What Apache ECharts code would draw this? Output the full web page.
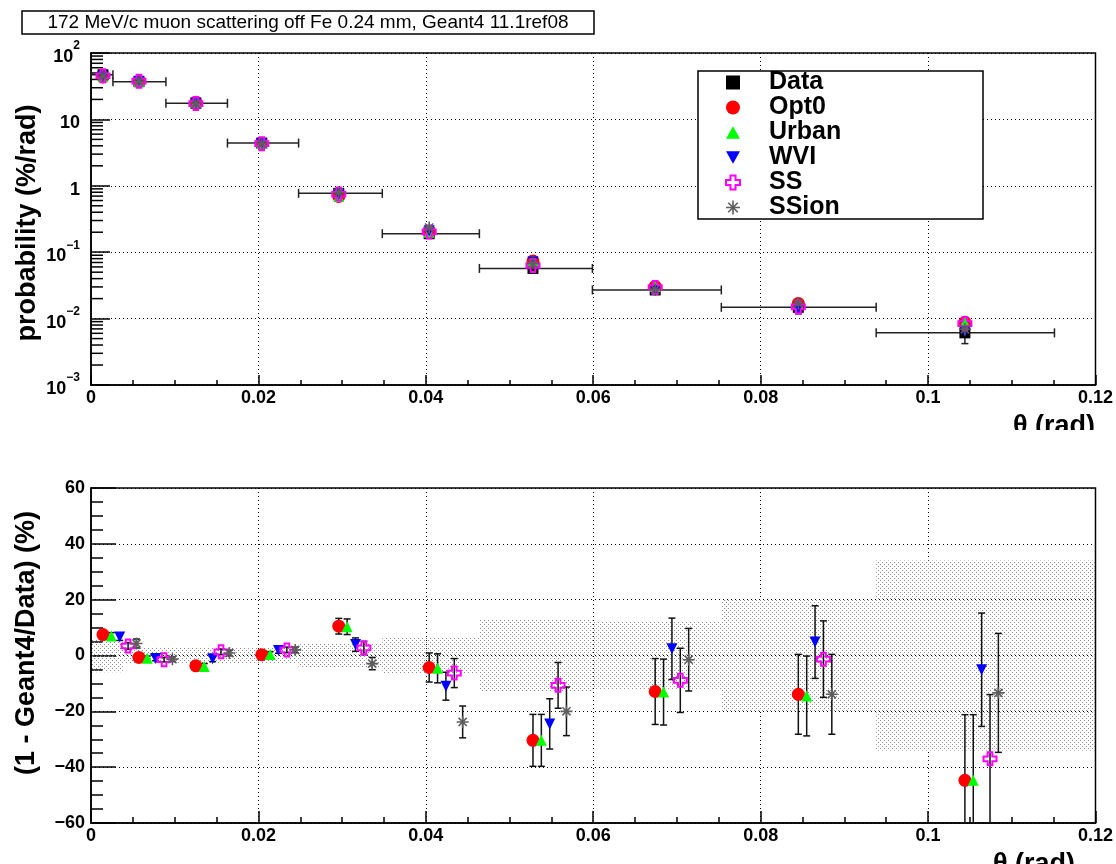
<!DOCTYPE html>
<html><head><meta charset="utf-8">
<script src="https://cdn.jsdelivr.net/npm/echarts@6/dist/echarts.min.js"></script>
<style>html,body{margin:0;padding:0;background:#fff}#c{width:1116px;height:864px}</style>
</head><body><div id="c"></div>
<script>
// ---------------- data ----------------
const seriesNames = ['Data', 'Opt0', 'Urban', 'WVI', 'SS', 'SSion'];
const binCenters = [0.00143, 0.00573, 0.01253, 0.0204, 0.0296, 0.0404, 0.0528, 0.0674, 0.0845, 0.1044];
const binLow  = [0, 0.00262, 0.00895, 0.0163, 0.0248, 0.0348, 0.0464, 0.0599, 0.0753, 0.0938];
const binHigh = [0.00262, 0.00895, 0.0163, 0.0248, 0.0348, 0.0464, 0.0599, 0.0753, 0.0938, 0.1151];

const dataProb    = [47, 37, 17.5, 4.4, 0.77, 0.19, 0.057, 0.027, 0.0148, 0.0061];
const dataProbErr = [2.8, 1.1, 0.5, 0.13, 0.03, 0.012, 0.0075, 0.0032, 0.003, 0.0019];
const opt0Prob  = [43.5, 37.3, 18.1, 4.39, 0.69, 0.198, 0.074, 0.0305, 0.0169, 0.0088];
const urbanProb = [43.7, 37.4, 18.2, 4.38, 0.69, 0.199, 0.074, 0.0305, 0.0169, 0.0088];
const wviProb   = [43.9, 37.4, 17.7, 4.32, 0.74, 0.211, 0.071, 0.0264, 0.0141, 0.0064];
const ssProb    = [45.4, 37.6, 17.3, 4.31, 0.75, 0.202, 0.063, 0.0294, 0.0150, 0.0084];
const ssionProb = [45.0, 37.5, 17.3, 4.31, 0.79, 0.235, 0.068, 0.0274, 0.0169, 0.0069];

const opt0Ratio     = [7.5, -0.7, -3.7, 0.3, 10.5, -4.3, -30.4, -12.9, -13.9, -44.7];
const opt0RatioErr  = [1.2, 0.8, 1.0, 1.0, 2.8, 5.2, 9.3, 11.8, 14.3, 23.5];
const urbanRatio    = [7.0, -1.0, -3.9, 0.4, 10.3, -4.6, -30.4, -13.1, -14.5, -44.7];
const urbanRatioErr = [1.2, 0.8, 1.0, 1.0, 2.8, 5.2, 9.3, 11.8, 14.3, 23.5];
const wviRatio      = [6.6, -1.1, -1.2, 1.8, 3.9, -11.0, -24.5, 2.4, 4.8, -5.1];
const wviRatioErr   = [1.2, 0.8, 1.0, 1.0, 2.4, 5.0, 9.0, 11.0, 13.0, 20.3];
const ssRatio       = [3.4, -1.5, 1.3, 2.0, 2.7, -6.3, -10.7, -8.9, -1.3, -37.0];
const ssRatioErr    = [1.2, 0.8, 1.0, 1.0, 2.4, 5.2, 8.2, 11.5, 13.7, 23.0];
const ssionRatio    = [4.3, -1.3, 0.9, 2.0, -2.9, -23.8, -20.0, -1.5, -13.9, -13.4];
const ssionRatioErr = [1.6, 0.8, 1.0, 1.0, 2.2, 5.7, 8.7, 11.2, 14.3, 21.3];

// data relative uncertainty band (%), per histogram bin
const bandLow   = [0, 0.0038, 0.0248, 0.0348, 0.0464, 0.0599, 0.0753, 0.0938];
const bandHigh  = [0.0038, 0.0248, 0.0348, 0.0464, 0.0599, 0.0753, 0.0938, 0.12];
const bandHalf  = [6.0, 3.0, 4.2, 6.3, 13.0, 12.0, 20.0, 34.0];

const xTickLabels = ['0', '0.02', '0.04', '0.06', '0.08', '0.1', '0.12'];
const logTickLabels = ['{b|10}{s|\u22123}', '{b|10}{s|\u22122}', '{b|10}{s|\u22121}', '{b|1}', '{b|10}', '{b|10}{s|2}'];
const ratioTickLabels = ['\u221260', '\u221240', '\u221220', '0', '20', '40', '60'];

// ---------------- style ----------------
const FONT = '"Liberation Sans", Arial, Helvetica, sans-serif';
const sym = {
  Data: 'rect',
  Opt0: 'circle',
  Urban: 'path://M5,0L10,9L0,9Z',
  WVI: 'path://M0,0L10,0L5,9Z',
  SS: 'path://M3.2,0H6.8V3.2H10V6.8H6.8V10H3.2V6.8H0V3.2H3.2Z',
  SSion: 'path://M5,0L5,10M0,5L10,5M1.6,1.6L8.4,8.4M8.4,1.6L1.6,8.4'
};
const symSize = {Data: 11, Opt0: 13, Urban: 11, WVI: 11, SS: 13, SSion: 12};
const styles = {
  Data: {color: '#000'},
  Opt0: {color: '#ff0000'},
  Urban: {color: '#00ff00'},
  WVI: {color: '#0000ff'},
  SS: {color: 'rgba(0,0,0,0)', borderColor: '#ff00ff', borderWidth: 2},
  SSion: {color: 'rgba(0,0,0,0)', borderColor: '#5e5e5e', borderWidth: 1.6}
};
const probs = {Data: dataProb, Opt0: opt0Prob, Urban: urbanProb, WVI: wviProb, SS: ssProb, SSion: ssionProb};
const ratios = {Opt0: [opt0Ratio, opt0RatioErr], Urban: [urbanRatio, urbanRatioErr], WVI: [wviRatio, wviRatioErr], SS: [ssRatio, ssRatioErr], SSion: [ssionRatio, ssionRatioErr]};
const models = ['Opt0', 'Urban', 'WVI', 'SS', 'SSion'];
const DODGE = 0.001;

// dotted fill pattern
const pc = document.createElement('canvas');
pc.width = 4; pc.height = 4;
const g = pc.getContext('2d');
g.fillStyle = '#8c8c8c';
g.fillRect(0, 0, 1, 1); g.fillRect(2, 2, 1, 1);

function xAx(gi, majLen, minLen) {
  return {
    type: 'value', gridIndex: gi, min: 0, max: 0.12, interval: 0.02,
    axisLine: {show: true, onZero: false, lineStyle: {color: '#000', width: 1.5}},
    axisTick: {show: true, inside: true, length: majLen, lineStyle: {color: '#000', width: 1.5}},
    minorTick: {show: true, splitNumber: 4, length: minLen, lineStyle: {color: '#000', width: 1.5}},
    splitLine: {show: true, lineStyle: {color: '#000', width: 1, type: [1, 3]}},
    axisLabel: {color: '#000', fontSize: 18, fontWeight: 'bold', fontFamily: FONT, margin: 4,
      formatter: v => xTickLabels[Math.round(v / 0.02)]}
  };
}

const minorLogValues = [];
[-3, -2, -1, 0, 1].forEach(k => { [2,3,4,5,6,7,8,9].forEach(m => minorLogValues.push([0, m * Math.pow(10, k)])); });

const series = [];
// bands
series.push({
  type: 'custom', name: 'band', xAxisIndex: 1, yAxisIndex: 1, clip: true, silent: true,
  data: bandLow.map((lo, i) => [lo, bandHigh[i], bandHalf[i]]),
  encode: {x: [0, 1], y: 2},
  renderItem: (p, api) => {
    const a = api.coord([api.value(0), api.value(2)]);
    const b = api.coord([api.value(1), -api.value(2)]);
    return {type: 'rect', shape: {x: a[0], y: a[1], width: b[0] - a[0], height: b[1] - a[1]},
      style: {fill: {image: pc, repeat: 'repeat'}}};
  }
});
// minor log ticks
series.push({
  type: 'custom', name: 'logminor', xAxisIndex: 0, yAxisIndex: 0, silent: true,
  data: minorLogValues, encode: {x: 0, y: 1},
  renderItem: (p, api) => {
    const c = api.coord([api.value(0), api.value(1)]);
    return {type: 'line', shape: {x1: c[0], y1: c[1], x2: c[0] + 12, y2: c[1]}, style: {stroke: '#000', lineWidth: 1.5}};
  }
});
// data error bars (top)
series.push({
  type: 'custom', name: 'dataerr', xAxisIndex: 0, yAxisIndex: 0, silent: true,
  data: binCenters.map((x, i) => [x, dataProb[i], binLow[i], binHigh[i], dataProbErr[i]]),
  encode: {x: 0, y: 1},
  renderItem: (p, api) => {
    const x = api.value(0), y = api.value(1), e = api.value(4);
    const L = api.coord([api.value(2), y]), R = api.coord([api.value(3), y]);
    const T = api.coord([x, y + e]), B = api.coord([x, y - e]);
    const st = {stroke: '#222', lineWidth: 1.5};
    const ln = (x1, y1, x2, y2) => ({type: 'line', shape: {x1, y1, x2, y2}, style: st});
    return {type: 'group', children: [
      ln(L[0], L[1], R[0], R[1]), ln(L[0], L[1] - 4.5, L[0], L[1] + 4.5), ln(R[0], R[1] - 4.5, R[0], R[1] + 4.5),
      ln(T[0], T[1], B[0], B[1]), ln(T[0] - 3.5, T[1], T[0] + 3.5, T[1]), ln(B[0] - 3.5, B[1], B[0] + 3.5, B[1])
    ]};
  }
});
// top markers
seriesNames.forEach(n => {
  series.push({
    type: 'scatter', name: n, xAxisIndex: 0, yAxisIndex: 0, symbol: sym[n], symbolSize: symSize[n],
    itemStyle: Object.assign({opacity: 1}, styles[n]), silent: true,
    data: binCenters.map((x, i) => [x, probs[n][i]])
  });
});
// bottom error bars
const errRows = [];
models.forEach((n, k) => {
  binCenters.forEach((x, i) => errRows.push([x + k * DODGE, ratios[n][0][i], ratios[n][1][i]]));
});
series.push({
  type: 'custom', name: 'ratioerr', xAxisIndex: 1, yAxisIndex: 1, clip: true, silent: true,
  data: errRows, encode: {x: 0, y: 1},
  renderItem: (p, api) => {
    const x = api.value(0), y = api.value(1), e = api.value(2);
    const T = api.coord([x, y + e]), B = api.coord([x, y - e]);
    const st = {stroke: '#111', lineWidth: 1.5};
    const ln = (x1, y1, x2, y2) => ({type: 'line', shape: {x1, y1, x2, y2}, style: st});
    return {type: 'group', children: [
      ln(T[0], T[1], B[0], B[1]), ln(T[0] - 3.5, T[1], T[0] + 3.5, T[1]), ln(B[0] - 3.5, B[1], B[0] + 3.5, B[1])
    ]};
  }
});
models.forEach((n, k) => {
  series.push({
    type: 'scatter', name: n, xAxisIndex: 1, yAxisIndex: 1, symbol: sym[n], symbolSize: symSize[n],
    itemStyle: Object.assign({opacity: 1}, styles[n]), silent: true,
    data: binCenters.map((x, i) => [x + k * DODGE, ratios[n][0][i]])
  });
});

const option = {
  animation: false,
  backgroundColor: '#fff',
  textStyle: {fontFamily: FONT},
  grid: [
    {left: 91, top: 53, width: 1006, height: 332, show: true, borderColor: '#000', borderWidth: 1.5, backgroundColor: 'transparent'},
    {left: 91, top: 488, width: 1006, height: 335, show: true, borderColor: '#000', borderWidth: 1.5, backgroundColor: 'transparent'}
  ],
  xAxis: [xAx(0, 10, 5), xAx(1, 12, 6)],
  yAxis: [
    {type: 'log', gridIndex: 0, min: 0.001, max: 100, logBase: 10,
      axisLine: {show: true, onZero: false, lineStyle: {color: '#000', width: 1.5}},
      axisTick: {show: true, inside: true, length: 19, lineStyle: {color: '#000', width: 1.5}},
      minorTick: {show: false},
      splitLine: {show: true, lineStyle: {color: '#000', width: 1, type: [1, 3]}},
      axisLabel: {color: '#000', fontSize: 18, fontWeight: 'bold', fontFamily: FONT, margin: 11,
        formatter: v => logTickLabels[Math.round(Math.log10(v)) + 3],
        rich: {
          b: {fontSize: 18, fontWeight: 'bold', fontFamily: FONT, color: '#000', lineHeight: 26, verticalAlign: 'bottom'},
          s: {fontSize: 12, fontWeight: 'bold', fontFamily: FONT, color: '#000', lineHeight: 14, verticalAlign: 'top'}
        }}
    },
    {type: 'value', gridIndex: 1, min: -60, max: 60, interval: 20,
      axisLine: {show: true, onZero: false, lineStyle: {color: '#000', width: 1.5}},
      axisTick: {show: true, inside: true, length: 25, lineStyle: {color: '#000', width: 1.5}},
      minorTick: {show: true, splitNumber: 4, length: 12, lineStyle: {color: '#000', width: 1.5}},
      splitLine: {show: true, lineStyle: {color: '#000', width: 1, type: [1, 3]}},
      axisLabel: {color: '#000', fontSize: 18, fontWeight: 'bold', fontFamily: FONT, margin: 6,
        formatter: v => ratioTickLabels[Math.round((v + 60) / 20)]}
    }
  ],
  legend: {
    orient: 'vertical', left: 725, top: 70, padding: 0, itemGap: 0, itemWidth: 14, itemHeight: 14,
    selectedMode: false, z: 6,
    textStyle: {fontSize: 25, fontWeight: 'bold', color: '#000', fontFamily: FONT, lineHeight: 24, padding: [0, 0, 0, 24]},
    data: seriesNames.map(n => ({name: n, icon: sym[n], itemStyle: Object.assign({}, styles[n])}))
  },
  graphic: [
    {type: 'rect', z: 5, shape: {x: 22, y: 11, width: 572, height: 23}, style: {fill: '#fff', stroke: '#000', lineWidth: 1.5}},
    {type: 'text', z: 6, x: 308, y: 23, style: {text: '172 MeV/c muon scattering off Fe 0.24 mm, Geant4 11.1ref08',
      font: '19px ' + FONT, fill: '#000', align: 'center', verticalAlign: 'middle'}},
    {type: 'rect', z: 5, shape: {x: 698, y: 71, width: 285, height: 148}, style: {fill: '#fff', stroke: '#000', lineWidth: 1.5}},
    {type: 'text', z: 6, x: 28, y: 223, rotation: Math.PI / 2, style: {text: 'probability (%/rad)',
      font: 'bold 27px ' + FONT, fill: '#000', align: 'center', verticalAlign: 'middle'}},
    {type: 'text', z: 6, x: 27, y: 643, rotation: Math.PI / 2, style: {text: '(1 - Geant4/Data) (%)',
      font: 'bold 27px ' + FONT, fill: '#000', align: 'center', verticalAlign: 'middle'}},
    {type: 'text', z: 6, x: 1095, y: 413, style: {text: '\u03b8 (rad)', font: 'bold 27px ' + FONT, fill: '#000', align: 'right', verticalAlign: 'top'}},
    {type: 'rect', z: 7, shape: {x: 900, y: 430, width: 216, height: 50}, style: {fill: '#fff'}},
    {type: 'text', z: 6, x: 1075, y: 851, style: {text: '\u03b8 (rad)', font: 'bold 27px ' + FONT, fill: '#000', align: 'right', verticalAlign: 'top'}}
  ],
  series: series
};
const chart = echarts.init(document.getElementById('c'));
chart.setOption(option);
</script></body></html>
